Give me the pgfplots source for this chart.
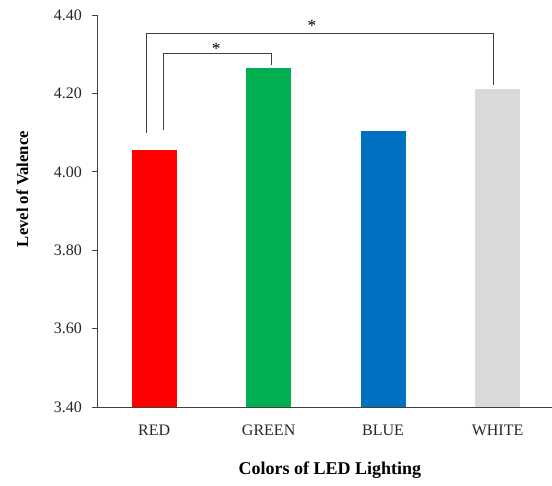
\documentclass[border=0pt]{standalone}
\usepackage{fontspec}
\setmainfont{Liberation Serif}
\usepackage{pgfplots}
\pgfplotsset{compat=1.18}
\definecolor{cRed}{HTML}{FF0000}
\definecolor{cGreen}{HTML}{00B050}
\definecolor{cBlue}{HTML}{0070C0}
\definecolor{cWhite}{HTML}{D9D9D9}
\begin{document}
\begin{tikzpicture}
\begin{axis}[
  scale only axis,
  width=341.25pt, height=294pt,
  xmin=-0.5, xmax=3.476,
  ymin=3.4, ymax=4.4,
  ytick={3.4,3.6,3.8,4.0,4.2,4.4},
  xtick={0,1,2,3},
  xticklabels={RED,GREEN,BLUE,WHITE},
  axis x line=bottom, axis y line=left,
  axis line style={-, black!75, line width=0.6pt},
  tick align=outside,
  major tick length=3.75pt,
  xtick style={draw=none},
  ytick style={black!75, line width=0.6pt},
  /pgf/number format/assume math mode=true,
  /pgf/number format/fixed,
  /pgf/number format/fixed zerofill,
  /pgf/number format/precision=2,
  ticklabel style={font=\fontsize{12}{14}\selectfont, text=black!85},
  xticklabel style={yshift=-6pt},
  yticklabel style={xshift=-4pt},
  ylabel={Level of Valence},
  xlabel={Colors of LED Lighting},
  every axis y label/.style={at={(axis description cs:-0.164,0.556)}, rotate=90, anchor=center, font=\fontsize{12.5}{14}\selectfont\bfseries},
  every axis x label/.style={at={(axis description cs:0.512,-0.161)}, anchor=center, font=\fontsize{13.5}{15}\selectfont\bfseries},
  clip=false,
  ybar, bar width=33.75pt, bar shift=0pt,
]
\coordinate (bl) at (rel axis cs:0,0);
\addplot[draw=none, fill=cRed] coordinates {(0,4.056)};
\addplot[draw=none, fill=cGreen] coordinates {(1,4.264)};
\addplot[draw=none, fill=cBlue] coordinates {(2,4.105)};
\addplot[draw=none, fill=cWhite] coordinates {(3,4.210)};
\addplot[sharp plot, black!75, line width=0.6pt, mark=none] coordinates {(-0.064,4.099) (-0.064,4.354) (2.965,4.354) (2.965,4.221)};
\addplot[sharp plot, black!75, line width=0.6pt, mark=none] coordinates {(0.081,4.107) (0.081,4.303) (1.022,4.303) (1.022,4.272)};
\node[anchor=base, font=\fontsize{13}{14}\selectfont] at (axis cs:1.378,4.359) {*};
\node[anchor=base, font=\fontsize{13}{14}\selectfont] at (axis cs:0.542,4.300) {*};
\end{axis}
\pgfresetboundingbox
\path (bl) ++(-72.75pt,-58.5pt) rectangle ++(414pt,363.75pt);
\end{tikzpicture}
\end{document}
